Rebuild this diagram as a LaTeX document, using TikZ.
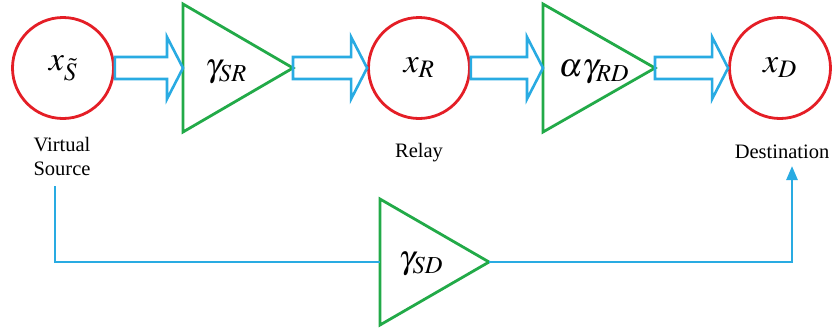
\documentclass[tikz,border=0pt]{standalone}
\usepackage{mathptmx}
\usepackage{fontspec}
\setmainfont{Liberation Serif}
\usetikzlibrary{arrows.meta,calc}

\definecolor{nodered}{RGB}{228,30,38}
\definecolor{gaingreen}{RGB}{34,170,72}
\definecolor{flowblue}{RGB}{41,171,226}

%% block arrow between two named points
\newcommand\blockarrow[2]{%
  \draw[flow] ($(#1)+(0,-11)$) -- ($(#2)+(-16,-11)$) -- ($(#2)+(-16,-31)$)
    -- (#2) -- ($(#2)+(-16,31)$) -- ($(#2)+(-16,11)$) -- ($(#1)+(0,11)$) -- cycle;}
%% amplifier triangle from its input point
\newcommand\gaintri[3]{%
  \draw[gain] ($(#1)+(0,-#3)$) -- (#2) -- ($(#1)+(0,#3)$) -- cycle;}

\begin{document}
\begin{tikzpicture}[x=1pt,y=-1pt,
  terminal/.style={draw=nodered, line width=2.8pt, circle, minimum size=101pt,
                   inner sep=0pt, font=\fontsize{34}{40}\selectfont},
  gain/.style={draw=gaingreen, line width=2.8pt, line join=miter},
  gainlbl/.style={font=\fontsize{33}{40}\selectfont, inner sep=0pt},
  flow/.style={draw=flowblue, line width=2.6pt, line join=miter},
  direct/.style={draw=flowblue, line width=2.6pt},
  lbl/.style={font=\fontsize{20.5}{24}\selectfont, align=center, inner sep=0pt}
]
\useasboundingbox (0,0) rectangle (833,327);

%% terminals
\node[terminal] (src)   at (63,68)  {$x_{\tilde S}$};
\node[terminal] (relay) at (419,68) {$x_R$};
\node[terminal] (dst)   at (780,68) {$x_D$};

\node[lbl] (srclbl) at (62,156)  {Virtual\\Source};
\node[lbl] (rlylbl) at (419,153) {Relay};
\node[lbl] (dstlbl) at (782,152) {Destination};

%% gains
\coordinate (sr-in) at (183,68);  \coordinate (sr-out) at (293,68);
\coordinate (rd-in) at (543,68);  \coordinate (rd-out) at (655,68);
\coordinate (sd-in) at (380,262); \coordinate (sd-out) at (489,262);
\gaintri{sr-in}{sr-out}{64}
\gaintri{rd-in}{rd-out}{64}
\gaintri{sd-in}{sd-out}{63}
\node[gainlbl] (srg) at (226,72)  {$\gamma_{SR}$};
\node[gainlbl] (rdg) at (594,72)  {$\alpha\gamma_{RD}$};
\node[gainlbl] (sdg) at (421,264) {$\gamma_{SD}$};

%% relay path
\blockarrow{src.east}{sr-in}
\blockarrow{sr-out}{relay.west}
\blockarrow{relay.east}{rd-in}
\blockarrow{rd-out}{dst.west}

%% direct path
\coordinate (sd-start) at (55,186);
\coordinate (sd-end) at (792,166);
\draw[direct] (sd-start) |- (sd-in);
\draw[direct, -{Triangle[length=14pt,width=11pt]}] (sd-out) -| (sd-end);
\end{tikzpicture}
\end{document}
